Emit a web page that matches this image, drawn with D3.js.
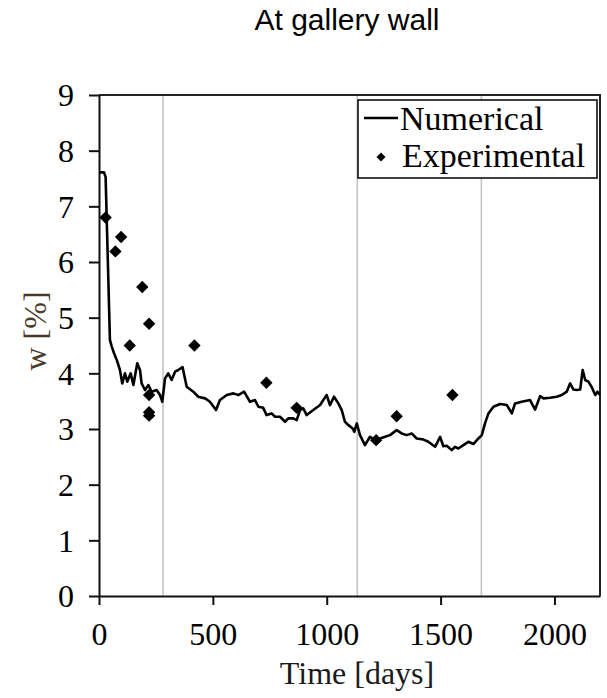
<!DOCTYPE html>
<html>
<head>
<meta charset="utf-8">
<script src="https://cdn.jsdelivr.net/npm/d3@7"></script>
<style>
  html, body { margin: 0; padding: 0; background: #fff; }
  svg { display: block; }
</style>
</head>
<body>
<svg id="chart" width="607" height="698"></svg>
<script>
// Simulated moisture content (Numerical)
const numDays = [0, 22, 29, 48, 56, 66, 78, 92, 102, 114, 124, 139, 151, 168, 180, 187, 202, 217, 231, 253, 268, 278,
  290, 304, 319, 334, 348, 367, 385, 414, 436, 466, 487, 514, 531, 561, 590, 612, 637, 663, 685, 700, 721, 736, 758,
  773, 795, 817, 831, 853, 868, 883, 897, 912, 941, 971, 985, 1000, 1014, 1032, 1051, 1066, 1080, 1095, 1114, 1121,
  1132, 1146, 1168, 1190, 1212, 1234, 1256, 1278, 1307, 1329, 1351, 1373, 1395, 1425, 1446, 1476, 1498, 1512, 1527,
  1549, 1563, 1578, 1600, 1622, 1644, 1666, 1681, 1695, 1710, 1732, 1761, 1791, 1813, 1827, 1856, 1893, 1915, 1937,
  1952, 1981, 2010, 2032, 2054, 2069, 2083, 2098, 2113, 2124, 2135, 2149, 2164, 2179, 2189, 2200];
const numW = [7.61, 7.61, 7.53, 4.60, 4.48, 4.36, 4.24, 4.06, 3.82, 4.00, 3.85, 4.00, 3.79, 4.18, 4.06, 3.82, 3.70, 3.79,
  3.67, 3.70, 3.61, 3.49, 3.91, 4.00, 3.88, 4.03, 4.06, 4.11, 3.76, 3.67, 3.58, 3.55, 3.49, 3.34, 3.52, 3.61, 3.64,
  3.61, 3.67, 3.49, 3.52, 3.40, 3.38, 3.25, 3.28, 3.22, 3.22, 3.13, 3.19, 3.19, 3.16, 3.34, 3.37, 3.25, 3.34, 3.43,
  3.52, 3.61, 3.43, 3.58, 3.46, 3.34, 3.13, 3.07, 3.01, 2.95, 3.10, 2.89, 2.71, 2.86, 2.80, 2.83, 2.86, 2.89, 2.98,
  2.92, 2.89, 2.92, 2.83, 2.81, 2.77, 2.68, 2.86, 2.69, 2.70, 2.62, 2.68, 2.65, 2.71, 2.77, 2.73, 2.83, 2.89, 3.10,
  3.28, 3.40, 3.45, 3.43, 3.28, 3.46, 3.49, 3.52, 3.35, 3.59, 3.55, 3.56, 3.58, 3.61, 3.67, 3.82, 3.71, 3.70, 3.71,
  4.06, 3.88, 3.85, 3.75, 3.61, 3.67, 3.61];

// Measured moisture content (Experimental)
const expDays = [29, 72, 97, 135, 190, 220, 220, 220, 220, 419, 735, 868, 1217, 1307, 1552];
const expW = [6.80, 6.19, 6.45, 4.50, 5.55, 4.89, 3.61, 3.30, 3.24, 4.50, 3.83, 3.38, 2.80, 3.23, 3.61];

// Vertical reference lines (days)
const markerDays = [281, 1134, 1679];

const xTicks = [0, 500, 1000, 1500, 2000];
const yTicks = [0, 1, 2, 3, 4, 5, 6, 7, 8, 9];

const titleText = "At gallery wall";
const xLabel = "Time [days]";
const yLabel = "w [%]";
const seriesNames = ["Numerical", "Experimental"];

const svg = d3.select("#chart");
const plotL = 99, plotT = 95, plotR = 600, plotB = 596;
const serif = "'Liberation Serif', 'Times New Roman', serif";

const x = d3.scaleLinear().domain([0, 2200]).range([plotL, plotR]);
const y = d3.scaleLinear().domain([0, 9]).range([plotB, plotT]);

// Title
svg.append("text")
  .attr("x", 347).attr("y", 30)
  .attr("text-anchor", "middle")
  .style("font-family", "'Liberation Sans', Arial, sans-serif")
  .style("font-size", "30px")
  .attr("fill", "#000")
  .text(titleText);

// Vertical reference lines
svg.append("g").selectAll("line").data(markerDays).join("line")
  .attr("x1", d => x(d)).attr("x2", d => x(d))
  .attr("y1", plotT).attr("y2", plotB)
  .attr("stroke", "#c4c4c4").attr("stroke-width", 1.6);

// Frame (top and right)
svg.append("path")
  .attr("d", `M${plotL},${plotT}H${plotR}V${plotB}`)
  .attr("fill", "none").attr("stroke", "#222").attr("stroke-width", 2);

// Axes
const xAxis = svg.append("g").attr("transform", `translate(0,${plotB})`)
  .call(d3.axisBottom(x).tickValues(xTicks).tickSize(9).tickSizeOuter(0).tickFormat(d3.format("d")));
const yAxis = svg.append("g").attr("transform", `translate(${plotL},0)`)
  .call(d3.axisLeft(y).tickValues(yTicks).tickSize(10).tickSizeOuter(0).tickFormat(d3.format("d")));

[xAxis, yAxis].forEach(g => {
  g.select(".domain").attr("stroke", "#111").attr("stroke-width", 2);
  g.selectAll(".tick line").attr("stroke", "#111").attr("stroke-width", 2);
  g.selectAll(".tick text")
    .style("font-family", serif).style("font-size", "32px").attr("fill", "#000");
});
xAxis.selectAll(".tick text").attr("y", 49).attr("dy", 0);
yAxis.selectAll(".tick text").attr("x", -25).attr("dy", "0.34em");

// Axis titles
svg.append("text")
  .attr("x", 357).attr("y", 684)
  .attr("text-anchor", "middle")
  .style("font-family", serif).style("font-size", "32px")
  .attr("fill", "#1a1a1a")
  .text(xLabel);

svg.append("text")
  .attr("transform", "translate(46,331) rotate(-90)")
  .attr("text-anchor", "middle")
  .style("font-family", serif).style("font-size", "32px")
  .attr("fill", "#4a3a2c")
  .text(yLabel);

// Numerical line
const lineData = numDays.map((d, i) => [d, numW[i]]);
svg.append("path")
  .datum(lineData)
  .attr("fill", "none").attr("stroke", "#000").attr("stroke-width", 2.6)
  .attr("stroke-linejoin", "round")
  .attr("d", d3.line().x(d => x(d[0])).y(d => y(d[1])));

// Experimental diamonds
const diamond = r => `M0,${-r}L${r},0L0,${r}L${-r},0Z`;
svg.append("g").selectAll("path").data(expDays.map((d, i) => [d, expW[i]])).join("path")
  .attr("transform", d => `translate(${x(d[0])},${y(d[1])})`)
  .attr("d", diamond(6.2))
  .attr("fill", "#000");

// Legend
const lg = svg.append("g");
lg.append("rect")
  .attr("x", 358).attr("y", 100).attr("width", 239).attr("height", 78)
  .attr("fill", "#fff").attr("stroke", "#111").attr("stroke-width", 1.6);
lg.append("line")
  .attr("x1", 364).attr("x2", 398).attr("y1", 118).attr("y2", 118)
  .attr("stroke", "#000").attr("stroke-width", 2.6);
lg.append("path")
  .attr("transform", "translate(381,157)")
  .attr("d", diamond(4.5)).attr("fill", "#000");
lg.append("text")
  .attr("x", 400).attr("y", 130)
  .style("font-family", serif).style("font-size", "34px").attr("fill", "#000")
  .text(seriesNames[0]);
lg.append("text")
  .attr("x", 402).attr("y", 167)
  .style("font-family", serif).style("font-size", "34px").attr("fill", "#000")
  .text(seriesNames[1]);
</script>
</body>
</html>
